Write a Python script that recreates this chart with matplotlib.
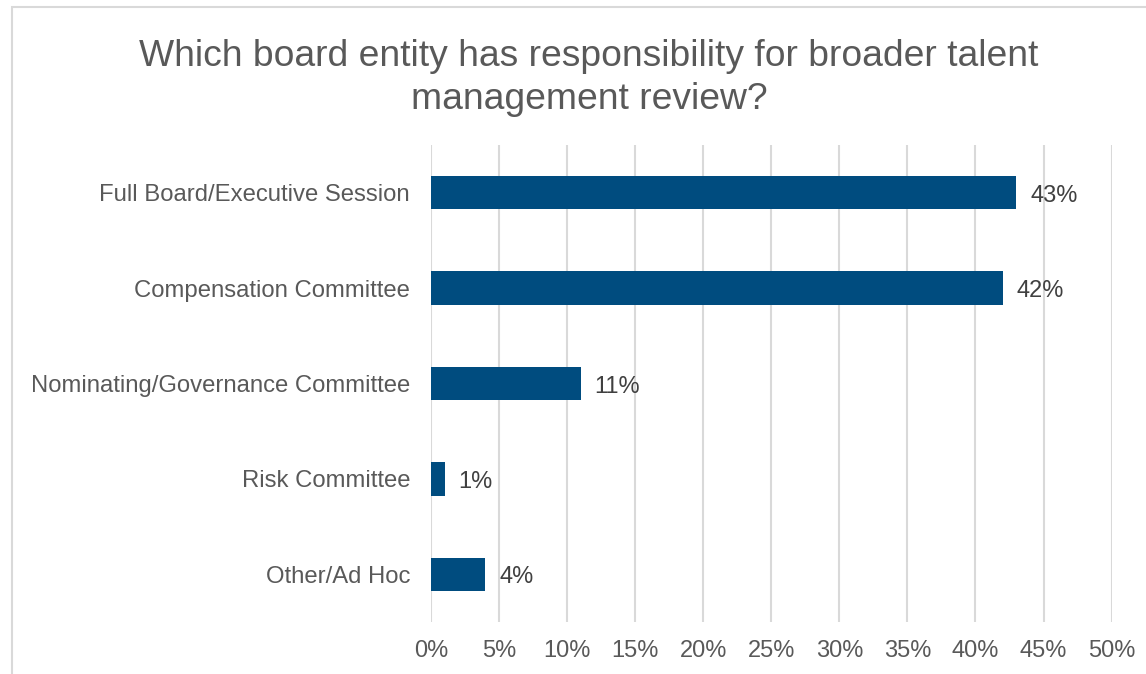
import matplotlib
matplotlib.use('Agg')
import matplotlib.pyplot as plt
from matplotlib.patches import Rectangle

plt.rcParams['font.family'] = ['Liberation Sans', 'DejaVu Sans']

# data
categories = ['Full Board/Executive Session', 'Compensation Committee',
              'Nominating/Governance Committee', 'Risk Committee', 'Other/Ad Hoc']
values = [43, 42, 11, 1, 4]
ticks = [0, 5, 10, 15, 20, 25, 30, 35, 40, 45, 50]

bar_color = '#004C7F'
text_grey = '#595959'
grid_grey = '#D9D9D9'

fig = plt.figure(figsize=(11.46, 6.74), dpi=100)
ax = fig.add_axes([0.376, 0.077, 0.594, 0.708])

ypos = list(range(len(categories)))
ax.barh(ypos, values, height=0.35, color=bar_color, zorder=3)

# data labels
for y, v in zip(ypos, values):
    ax.annotate(f'{v}%', xy=(v, y), xytext=(14, -3), textcoords='offset pixels',
                va='center', ha='left', fontsize=17, color='#404040')

ax.set_xlim(0, 50)
ax.set_ylim(len(categories) - 0.5, -0.5)
ax.set_xticks(ticks)
ax.set_xticklabels([f'{t}%' for t in ticks])
ax.set_yticks(ypos)
ax.set_yticklabels(categories)
ax.tick_params(axis='x', length=0, pad=13, labelsize=17, labelcolor=text_grey)
ax.tick_params(axis='y', length=0, pad=15, labelsize=17.2, labelcolor=text_grey)
ax.grid(axis='x', color=grid_grey, linewidth=1.5, zorder=0)
for s in ax.spines.values():
    s.set_visible(False)

fig.text(0.514, 0.884, 'Which board entity has responsibility for broader talent\nmanagement review?',
         ha='center', va='center', fontsize=26.8, color=text_grey, linespacing=1.3)

# outer chart border
fig.patches.append(Rectangle((12 / 1146, -0.1), 1.2, 1.1 - 7 / 674,
                             transform=fig.transFigure, fill=False,
                             edgecolor=grid_grey, linewidth=1.5))

fig.savefig('out.png', dpi=100)
